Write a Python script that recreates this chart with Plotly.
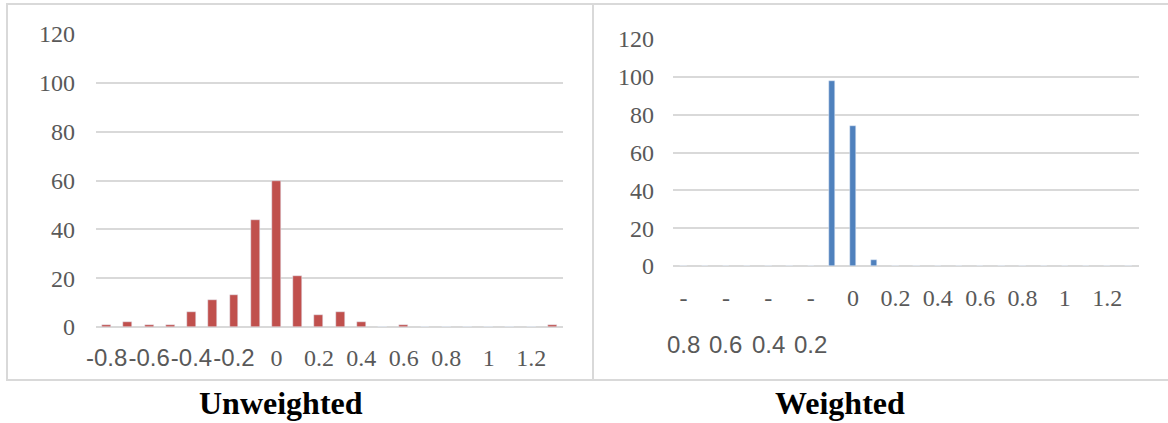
import plotly.graph_objects as go

# Histogram bins (bin centres) shared by both panels
bins = [-0.8, -0.7, -0.6, -0.5, -0.4, -0.3, -0.2, -0.1, 0.0, 0.1, 0.2,
        0.3, 0.4, 0.5, 0.6, 0.7, 0.8, 0.9, 1.0, 1.1, 1.2, 1.3]

# Counts per bin
unweighted = [1, 2, 1, 1, 6, 11, 13, 44, 60, 21, 5,
              6, 2, 0, 1, 0, 0, 0, 0, 0, 0, 1]
weighted = [0, 0, 0, 0, 0, 0, 0, 98, 74, 3, 0,
            0, 0, 0, 0, 0, 0, 0, 0, 0, 0, 0]

# Axis labels
tick_vals = [-0.8, -0.6, -0.4, -0.2, 0.0, 0.2, 0.4, 0.6, 0.8, 1.0, 1.2]
tick_text = ["-0.8", "-0.6", "-0.4", "-0.2", "0", "0.2", "0.4", "0.6", "0.8", "1", "1.2"]
y_ticks = [0, 20, 40, 60, 80, 100, 120]
panel_titles = ["Unweighted", "Weighted"]

W, H = 1168, 423
GRID = "#D9D9D9"
TEXT = "#595959"
SERIF = "Liberation Serif"
SANS = "Liberation Sans"


def px(x):
    return x / W


def py(y):
    return 1 - y / H


def sans(s):
    return f'<span style="font-family:{SANS}">{s}</span>'


# Negative labels are set in the sans face, the rest in serif
left_text = [sans(t) if t.startswith("-") else t for t in tick_text]
# In the right panel the negative labels break after the minus sign
right_text = ["-" if t.startswith("-") else t for t in tick_text]

fig = go.Figure()
fig.add_trace(go.Bar(x=bins, y=unweighted, marker_color="#C0504D",
                     width=0.042, xaxis="x", yaxis="y", showlegend=False))
fig.add_trace(go.Bar(x=bins, y=weighted, marker_color="#4F81BD",
                     width=0.030, xaxis="x2", yaxis="y2", showlegend=False))

xcommon = dict(range=[-0.85, 1.35], showgrid=False, zeroline=False, showline=False,
               tickmode="array", tickvals=tick_vals, ticks="", tickangle=0,
               automargin=False,
               tickfont=dict(family=SERIF, size=24, color=TEXT), fixedrange=True)
ycommon = dict(range=[0, 120], tickmode="array", tickvals=y_ticks, showgrid=True,
               gridcolor=GRID, gridwidth=2, zeroline=True, zerolinecolor=GRID,
               zerolinewidth=2, showline=False, ticks="", automargin=False,
               tickfont=dict(family=SERIF, size=24, color=TEXT), fixedrange=True)

fig.update_layout(
    width=W, height=H,
    margin=dict(l=0, r=0, t=0, b=0, pad=0),
    paper_bgcolor="white", plot_bgcolor="white",
    bargap=0,
    xaxis=dict(xcommon, domain=[px(96), px(563)], anchor="y", ticktext=left_text,
               ticklabelstandoff=14),
    yaxis=dict(ycommon, domain=[py(327), py(34)], anchor="x", ticklabelstandoff=20),
    xaxis2=dict(xcommon, domain=[px(673), px(1139)], anchor="y2", ticktext=right_text,
                ticklabelstandoff=15),
    yaxis2=dict(ycommon, domain=[py(266), py(39)], anchor="x2", ticklabelstandoff=18),
)

# Second line of the wrapped negative labels in the right panel
for v, t in zip(tick_vals, tick_text):
    if t.startswith("-"):
        fig.add_annotation(x=v, xref="x2", y=py(344), yref="paper", yanchor="middle",
                           xanchor="center", text=t[1:], showarrow=False,
                           font=dict(family=SANS, size=24, color=TEXT))

# Panel captions
for cx, title in zip([281, 840], panel_titles):
    fig.add_annotation(x=px(cx), xref="paper", y=py(403), yref="paper",
                       xanchor="center", yanchor="middle", text=f"<b>{title}</b>",
                       showarrow=False,
                       font=dict(family=SERIF, size=32, color="black"))

# Panel frames
for x0, x1 in [(7, 593), (593, 1175)]:
    fig.add_shape(type="rect", xref="paper", yref="paper",
                  x0=px(x0), x1=px(x1), y0=py(380), y1=py(4),
                  line=dict(color=GRID, width=2), fillcolor="rgba(0,0,0,0)")

fig.write_html("out.html")
